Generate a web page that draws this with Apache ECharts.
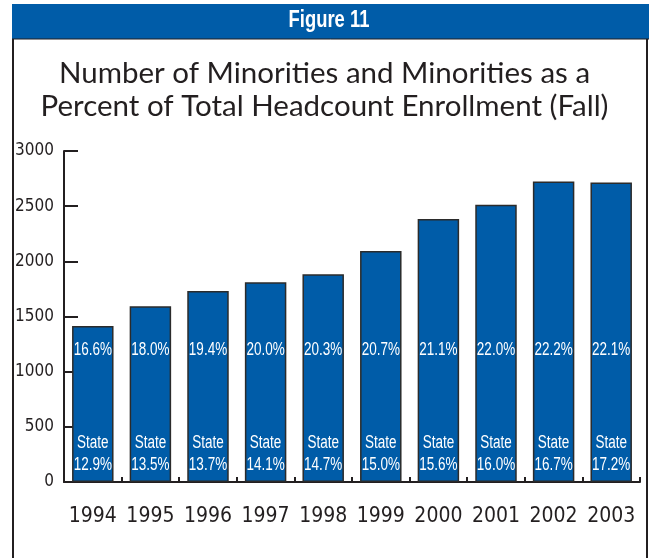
<!DOCTYPE html>
<html>
<head>
<meta charset="utf-8">
<script src="https://cdn.jsdelivr.net/npm/echarts@6/dist/echarts.min.js"></script>
<style>
  html, body { margin: 0; padding: 0; background: #fff; }
  #chart { width: 649px; height: 558px; }
</style>
</head>
<body>
<div id="chart"></div>
<script>
// Fall headcount enrollment of minority students, by year
const years = ['1994', '1995', '1996', '1997', '1998', '1999', '2000', '2001', '2002', '2003'];
const minorityCount = [1414, 1593, 1731, 1810, 1882, 2093, 2383, 2513, 2724, 2715];
// Minorities as a percent of total headcount (institution and statewide)
const pctInstitution = ['16.6%', '18.0%', '19.4%', '20.0%', '20.3%', '20.7%', '21.1%', '22.0%', '22.2%', '22.1%'];
const pctState = ['12.9%', '13.5%', '13.7%', '14.1%', '14.7%', '15.0%', '15.6%', '16.0%', '16.7%', '17.2%'];
const yTicks = { min: 0, max: 3000, interval: 500 };

const INK = '#231f20';
const BLUE = '#005ca8';
const COND = '"DejaVu Sans Condensed", "Liberation Sans", sans-serif';
const LABEL_FONT = '18px "Liberation Sans", Arial, sans-serif';
const SQUEEZE = 0.75;

const chart = echarts.init(document.getElementById('chart'), null, { renderer: 'canvas' });

// condensed white text inside a bar, anchored to the bar's baseline
function barText(x, y, text) {
  return {
    type: 'text',
    x: x,
    y: y,
    scaleX: SQUEEZE,
    style: { text: text, fill: '#ffffff', font: LABEL_FONT, align: 'center', verticalAlign: 'middle' }
  };
}

chart.setOption({
  animation: false,
  backgroundColor: '#ffffff',
  graphic: [
    // header band
    { type: 'rect', shape: { x: 12, y: 4, width: 637, height: 35 }, style: { fill: BLUE }, z: 0 },
    { type: 'line', shape: { x1: 12, y1: 39, x2: 649, y2: 39 }, style: { stroke: INK, lineWidth: 1 }, z: 1 },
    {
      type: 'text', x: 329, y: 21, scaleX: 0.8, z: 2,
      style: { text: 'Figure 11', fill: '#ffffff', font: 'bold 23px "Liberation Sans", Arial, sans-serif', align: 'center', verticalAlign: 'middle' }
    },
    // frame sides
    { type: 'line', shape: { x1: 13, y1: 39, x2: 13, y2: 558 }, style: { stroke: INK, lineWidth: 2 }, z: 1 },
    { type: 'line', shape: { x1: 647, y1: 39, x2: 647, y2: 558 }, style: { stroke: INK, lineWidth: 2 }, z: 1 }
  ],
  title: {
    text: 'Number of Minorities and Minorities as a\nPercent of Total Headcount Enrollment (Fall)',
    left: 'center',
    top: 52,
    textStyle: { color: INK, fontFamily: 'Lato, "Noto Sans", sans-serif', fontWeight: 'normal', fontSize: 29.5, lineHeight: 33, align: 'center' }
  },
  grid: { left: 64, right: 9, top: 151, bottom: 76, containLabel: false },
  xAxis: {
    type: 'category',
    data: years,
    axisLine: { lineStyle: { color: INK, width: 2 } },
    axisTick: { show: true, inside: true, length: 5, interval: 0, lineStyle: { color: INK, width: 2 } },
    axisLabel: { color: INK, fontFamily: COND, fontSize: 21, margin: 24, interval: 0 }
  },
  yAxis: {
    type: 'value',
    min: yTicks.min,
    max: yTicks.max,
    interval: yTicks.interval,
    splitLine: { show: false },
    axisLine: { show: true, lineStyle: { color: INK, width: 2 } },
    axisTick: { show: true, inside: true, length: 14, lineStyle: { color: INK, width: 2 } },
    axisLabel: { color: INK, fontFamily: COND, fontSize: 17, margin: 10, formatter: (v) => String(v) }
  },
  series: [
    {
      type: 'bar',
      data: minorityCount,
      barCategoryGap: '28%',
      itemStyle: { color: BLUE, borderColor: '#2b2b2b', borderWidth: 1.5 }
    },
    {
      // percentage captions placed from the bar's baseline
      type: 'custom',
      silent: true,
      z: 5,
      data: minorityCount.map((v, i) => [i, v]),
      encode: { x: 0, y: 1 },
      renderItem: (params, api) => {
        const i = params.dataIndex;
        const base = api.coord([api.value(0), 0]);
        return {
          type: 'group',
          children: [
            barText(base[0], base[1] - 132, pctInstitution[i]),
            barText(base[0], base[1] - 39, 'State'),
            barText(base[0], base[1] - 17, pctState[i])
          ]
        };
      }
    }
  ]
});
</script>
</body>
</html>
